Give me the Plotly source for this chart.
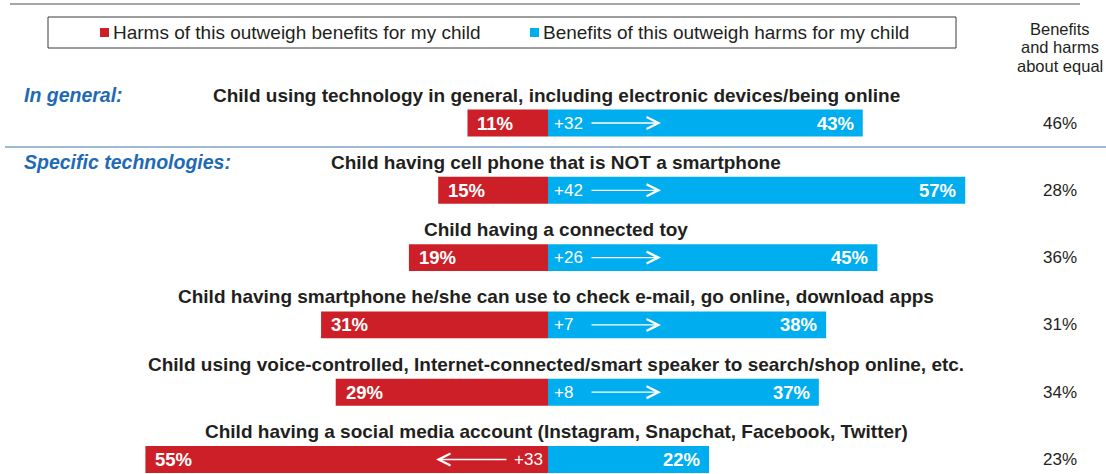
import plotly.graph_objects as go

# Survey items, one per row (top to bottom)
titles = [
    "Child using technology in general, including electronic devices/being online",
    "Child having cell phone that is NOT a smartphone",
    "Child having a connected toy",
    "Child having smartphone he/she can use to check e-mail, go online, download apps",
    "Child using voice-controlled, Internet-connected/smart speaker to search/shop online, etc.",
    "Child having a social media account (Instagram, Snapchat, Facebook, Twitter)",
]
harms = [11, 15, 19, 31, 29, 55]       # % harms outweigh benefits
benefits = [43, 57, 45, 38, 37, 22]    # % benefits outweigh harms
equal = [46, 28, 36, 31, 34, 23]       # % about equal

section_labels = ["In general:", "Specific technologies:"]
section_rows = [0, 1]

legend_names = ["Harms of this outweigh benefits for my child",
                "Benefits of this outweigh harms for my child"]
equal_header = ["Benefits", "and harms", "about equal"]

# Styling / geometry
W, H = 1106, 474
RED = "#CC1F27"
BLUE = "#00AEEF"
TXT = "#231F20"
SECTION_BLUE = "#1F6AB5"
FONT = "Liberation Sans, Arial, sans-serif"

ZERO_PX = 548
PX_PER_PCT = 7.32
ROW0_PX = 123
ROW_STEP = 67.3

rows = list(range(len(titles)))


def px_x(px):
    return px / W


def px_y(py):
    return 1 - py / H


fig = go.Figure()
fig.add_trace(go.Bar(
    y=rows, x=[-v for v in harms], orientation="h", width=0.40,
    marker=dict(color=RED, line=dict(width=0)), name=legend_names[0],
    hoverinfo="skip",
))
fig.add_trace(go.Bar(
    y=rows, x=benefits, orientation="h", width=0.40,
    marker=dict(color=BLUE, line=dict(width=0)), name=legend_names[1],
    hoverinfo="skip",
))

ann = []
shapes = []

for i, (t, h, b, e) in enumerate(zip(titles, harms, benefits, equal)):
    # row title
    ann.append(dict(x=px_x(556), xref="paper", y=i, yref="y", yshift=28,
                    text=f"<b>{t}</b>", showarrow=False, xanchor="center",
                    yanchor="middle", font=dict(family=FONT, size=19, color=TXT)))
    # harms value
    ann.append(dict(x=-h, xref="x", y=i, yref="y", xshift=8, text=f"<b>{h}%</b>",
                    showarrow=False, xanchor="left", yanchor="middle",
                    font=dict(family=FONT, size=18.5, color="white")))
    # benefits value
    ann.append(dict(x=b, xref="x", y=i, yref="y", xshift=-7, text=f"<b>{b}%</b>",
                    showarrow=False, xanchor="right", yanchor="middle",
                    font=dict(family=FONT, size=18.5, color="white")))
    # about-equal column
    ann.append(dict(x=px_x(1060), xref="paper", y=i, yref="y", text=f"{e}%",
                    showarrow=False, xanchor="center", yanchor="middle",
                    font=dict(family=FONT, size=17, color=TXT)))
    # net difference with direction arrow
    net = b - h
    if net >= 0:
        ann.append(dict(x=0, xref="x", y=i, yref="y", xshift=4, text=f"+{net}",
                        showarrow=False, xanchor="left", yanchor="middle",
                        font=dict(family=FONT, size=17, color="white")))
        ann.append(dict(x=0, xref="x", y=i, yref="y", xshift=113, text="",
                        showarrow=True, ax=-71, ay=0, arrowhead=5, arrowsize=1.8,
                        arrowwidth=1.3, arrowcolor="white", standoff=0))
    else:
        ann.append(dict(x=0, xref="x", y=i, yref="y", xshift=-3, text=f"+{-net}",
                        showarrow=False, xanchor="right", yanchor="middle",
                        font=dict(family=FONT, size=17, color="white")))
        ann.append(dict(x=0, xref="x", y=i, yref="y", xshift=-112, text="",
                        showarrow=True, ax=72, ay=0, arrowhead=5, arrowsize=1.8,
                        arrowwidth=1.3, arrowcolor="white", standoff=0))

# Section labels
for lab, r in zip(section_labels, section_rows):
    ann.append(dict(x=px_x(22), xref="paper", y=r, yref="y", yshift=28,
                    text=f"<b><i>{lab}</i></b>", showarrow=False, xanchor="left",
                    yanchor="middle", font=dict(family=FONT, size=19.5, color=SECTION_BLUE)))

# "About equal" column header
for k, line in enumerate(equal_header):
    ann.append(dict(x=px_x(1060), xref="paper", y=px_y(29 + 18.5 * k), yref="paper",
                    text=line, showarrow=False, xanchor="center", yanchor="middle",
                    font=dict(family=FONT, size=16.5, color=TXT)))

# Legend box with swatches
shapes.append(dict(type="rect", xref="paper", yref="paper",
                   x0=px_x(48), x1=px_x(956), y0=px_y(17), y1=px_y(48),
                   line=dict(color="#3a3a3a", width=1), fillcolor="white", layer="below"))
for name, col, sx in [(legend_names[0], RED, 100), (legend_names[1], BLUE, 530)]:
    shapes.append(dict(type="rect", xref="paper", yref="paper",
                       x0=px_x(sx), x1=px_x(sx + 9), y0=px_y(37), y1=px_y(28),
                       line=dict(width=0), fillcolor=col))
    ann.append(dict(x=px_x(sx + 11), xref="paper", y=px_y(32.5), yref="paper",
                    text=name, showarrow=False, xanchor="left", yanchor="middle",
                    font=dict(family=FONT, size=19, color=TXT)))

# Rules
shapes.append(dict(type="line", xref="paper", yref="paper",
                   x0=px_x(10), x1=px_x(1080), y0=px_y(4), y1=px_y(4),
                   line=dict(color="#8a8a8a", width=1.5)))
shapes.append(dict(type="line", xref="paper", yref="paper",
                   x0=px_x(5), x1=1, y0=px_y(147), y1=px_y(147),
                   line=dict(color="#7FA3CC", width=1.5)))

fig.update_layout(
    width=W, height=H,
    margin=dict(l=0, r=0, t=0, b=0),
    paper_bgcolor="white", plot_bgcolor="white",
    barmode="overlay", showlegend=False,
    xaxis=dict(range=[-ZERO_PX / PX_PER_PCT, (W - ZERO_PX) / PX_PER_PCT],
               visible=False, fixedrange=True),
    yaxis=dict(range=[(H - ROW0_PX) / ROW_STEP, -ROW0_PX / ROW_STEP],
               visible=False, fixedrange=True),
    annotations=ann, shapes=shapes,
)

fig.write_html("out.html")
